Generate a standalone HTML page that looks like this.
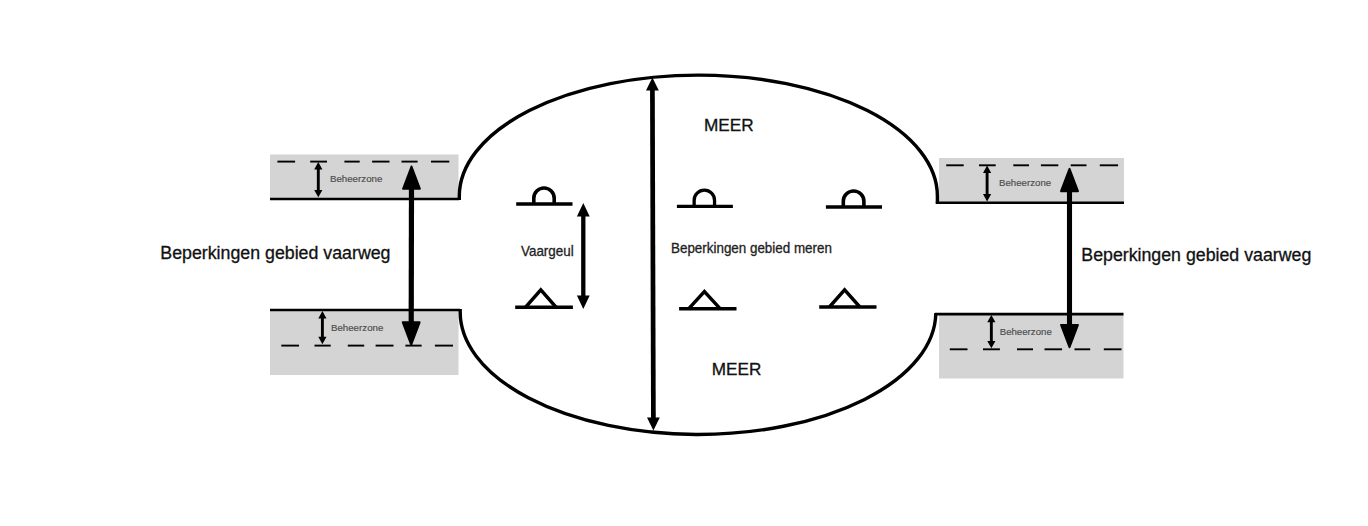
<!DOCTYPE html>
<html><head><meta charset="utf-8"><style>
html,body{margin:0;padding:0;background:#fff;width:1368px;height:526px;overflow:hidden}
svg{display:block}
text{font-family:"Liberation Sans",sans-serif}
</style></head><body>
<svg width="1368" height="526" viewBox="0 0 1368 526">
<g fill="#d4d4d4" stroke="none">
<rect x="270" y="154.5" width="188.5" height="44"/>
<rect x="270" y="310" width="188.5" height="65"/>
<rect x="939" y="158" width="185" height="44"/>
<rect x="939" y="314" width="184.5" height="64.5"/>
</g>
<g stroke="#000" fill="none" stroke-width="3.4">
<path d="M459.3,200 V196.2 A239.05,121.1 0 0 1 937.4,196.2 V203.5"/>
<path d="M460.2,309 V310.85 A237.7,122.35 0 0 0 935.83,313.2 L935.7,315"/>
</g>
<g stroke="#000" stroke-width="2.6">
<line x1="270" y1="199" x2="459" y2="199" stroke-width="2.3"/>
<line x1="270" y1="310" x2="460" y2="310"/>
<line x1="935.8" y1="202.7" x2="1124" y2="202.7"/>
<line x1="935" y1="314.1" x2="1123.5" y2="314.1"/>
</g>
<g stroke="#000" stroke-width="1.9">
<line x1="277.4" y1="161.60" x2="295.1" y2="161.60"/><line x1="310.2" y1="161.60" x2="327.0" y2="161.60"/><line x1="344.4" y1="161.60" x2="359.7" y2="161.60"/><line x1="372.1" y1="161.60" x2="389.5" y2="161.60"/><line x1="401.5" y1="161.60" x2="417.6" y2="161.60"/><line x1="431.0" y1="161.60" x2="449.3" y2="161.60"/>
<line x1="281.3" y1="345.60" x2="299.0" y2="345.60"/><line x1="314.5" y1="345.60" x2="330.7" y2="345.60"/><line x1="347.8" y1="345.60" x2="364.2" y2="345.60"/><line x1="375.6" y1="345.60" x2="393.5" y2="345.60"/><line x1="405.4" y1="345.60" x2="421.6" y2="345.60"/><line x1="434.9" y1="345.60" x2="453.0" y2="345.60"/>
<line x1="946.2" y1="165.30" x2="963.7" y2="165.30"/><line x1="979.0" y1="165.30" x2="995.7" y2="165.30"/><line x1="1013.3" y1="165.30" x2="1029.0" y2="165.30"/><line x1="1040.9" y1="165.30" x2="1058.3" y2="165.30"/><line x1="1070.7" y1="165.30" x2="1086.5" y2="165.30"/><line x1="1099.8" y1="165.30" x2="1118.1" y2="165.30"/>
<line x1="949.8" y1="349.30" x2="967.5" y2="349.30"/><line x1="983.0" y1="349.30" x2="999.9" y2="349.30"/><line x1="1017.0" y1="349.30" x2="1033.0" y2="349.30"/><line x1="1044.5" y1="349.30" x2="1062.1" y2="349.30"/><line x1="1074.5" y1="349.30" x2="1090.2" y2="349.30"/><line x1="1103.8" y1="349.30" x2="1121.5" y2="349.30"/>
</g>
<g stroke="#000" fill="#000">
<line x1="318.30" y1="167.21" x2="318.30" y2="192.19" stroke-width="2.90" stroke-linecap="butt"/><polygon points="318.30,162.10 314.20,169.40 322.40,169.40" stroke="none"/><polygon points="318.30,197.30 314.20,190.00 322.40,190.00" stroke="none"/>
<line x1="322.40" y1="316.15" x2="322.40" y2="338.95" stroke-width="2.90" stroke-linecap="butt"/><polygon points="322.40,310.90 318.30,318.40 326.50,318.40" stroke="none"/><polygon points="322.40,344.20 318.30,336.70 326.50,336.70" stroke="none"/>
<line x1="987.10" y1="170.78" x2="987.10" y2="196.22" stroke-width="2.90" stroke-linecap="butt"/><polygon points="987.10,165.60 983.00,173.00 991.20,173.00" stroke="none"/><polygon points="987.10,201.40 983.00,194.00 991.20,194.00" stroke="none"/>
<line x1="991.35" y1="320.11" x2="991.35" y2="343.14" stroke-width="2.90" stroke-linecap="butt"/><polygon points="991.35,315.00 987.25,322.30 995.45,322.30" stroke="none"/><polygon points="991.35,348.25 987.25,340.95 995.45,340.95" stroke="none"/>
<line x1="411.50" y1="182.21" x2="411.20" y2="328.89" stroke-width="5.20" stroke-linecap="butt"/><polygon points="411.50,166.50 403.10,188.80 419.90,188.80" stroke-width="2.00" stroke-linejoin="round"/><polygon points="411.20,344.60 402.80,322.30 419.60,322.30" stroke-width="2.00" stroke-linejoin="round"/>
<line x1="1069.50" y1="184.61" x2="1069.50" y2="331.49" stroke-width="5.10" stroke-linecap="butt"/><polygon points="1069.50,168.90 1061.05,191.20 1077.95,191.20" stroke-width="2.00" stroke-linejoin="round"/><polygon points="1069.50,347.20 1061.05,324.90 1077.95,324.90" stroke-width="2.00" stroke-linejoin="round"/>
<line x1="652.40" y1="86.63" x2="653.40" y2="421.37" stroke-width="4.70" stroke-linecap="butt"/><polygon points="652.40,77.60 646.00,90.50 658.80,90.50" stroke="none"/><polygon points="653.40,430.40 647.00,417.50 659.80,417.50" stroke="none"/>
<line x1="583.30" y1="212.55" x2="583.30" y2="299.45" stroke-width="4.30" stroke-linecap="butt"/><polygon points="583.30,203.10 576.90,216.60 589.70,216.60" stroke="none"/><polygon points="583.30,308.90 576.90,295.40 589.70,295.40" stroke="none"/>
</g>
<g stroke="#000" fill="none">
<line x1="516.2" y1="204.00" x2="572.5" y2="204.00" stroke-width="3.60"/><path d="M533.80,204.00 V198.20 A10.20,10.20 0 0 1 554.20,198.20 V204.00" stroke-width="3.60" fill="none"/>
<line x1="676.9" y1="206.35" x2="732.9" y2="206.35" stroke-width="3.30"/><path d="M694.15,206.35 V200.40 A10.20,10.20 0 0 1 714.55,200.40 V206.35" stroke-width="3.30" fill="none"/>
<line x1="825.9" y1="207.00" x2="882.0" y2="207.00" stroke-width="3.60"/><path d="M843.30,207.00 V201.30 A10.30,10.30 0 0 1 863.90,201.30 V207.00" stroke-width="3.60" fill="none"/>
<line x1="515.2" y1="307.20" x2="572.9" y2="307.20" stroke-width="3.50"/><polyline points="525.60,307.20 540.80,289.90 556.00,307.20" stroke-width="3.50" fill="none" stroke-linejoin="miter"/>
<line x1="679.1" y1="308.70" x2="736.5" y2="308.70" stroke-width="3.40"/><polyline points="688.80,308.70 704.40,291.50 720.10,308.70" stroke-width="3.40" fill="none" stroke-linejoin="miter"/>
<line x1="819.2" y1="307.00" x2="876.5" y2="307.00" stroke-width="3.40"/><polyline points="829.40,307.00 844.60,289.90 859.90,307.00" stroke-width="3.40" fill="none" stroke-linejoin="miter"/>
</g>
<g><text x="160.3" y="259.4" font-size="17.5" fill="#111" stroke="#111" stroke-width="0.30" textLength="230.2" lengthAdjust="spacingAndGlyphs">Beperkingen gebied vaarweg</text>
<text x="1081.3" y="261.2" font-size="17.5" fill="#111" stroke="#111" stroke-width="0.30" textLength="230.0" lengthAdjust="spacingAndGlyphs">Beperkingen gebied vaarweg</text>
<text x="704.0" y="131.3" font-size="16.2" fill="#111" stroke="#111" stroke-width="0.30" textLength="49.7" lengthAdjust="spacingAndGlyphs">MEER</text>
<text x="711.8" y="375.2" font-size="16.2" fill="#111" stroke="#111" stroke-width="0.30" textLength="49.5" lengthAdjust="spacingAndGlyphs">MEER</text>
<text x="521.0" y="256.1" font-size="13.9" fill="#222" stroke="#222" stroke-width="0.30" textLength="52.7" lengthAdjust="spacingAndGlyphs">Vaargeul</text>
<text x="671.0" y="253.3" font-size="13.9" fill="#222" stroke="#222" stroke-width="0.30" textLength="160.9" lengthAdjust="spacingAndGlyphs">Beperkingen gebied meren</text>
<text x="329.9" y="181.7" font-size="8.7" fill="#4d4d4d" stroke="#4d4d4d" stroke-width="0.15" textLength="52.5" lengthAdjust="spacingAndGlyphs">Beheerzone</text>
<text x="330.9" y="331.3" font-size="8.7" fill="#4d4d4d" stroke="#4d4d4d" stroke-width="0.15" textLength="52.5" lengthAdjust="spacingAndGlyphs">Beheerzone</text>
<text x="999.0" y="185.9" font-size="8.7" fill="#4d4d4d" stroke="#4d4d4d" stroke-width="0.15" textLength="52.2" lengthAdjust="spacingAndGlyphs">Beheerzone</text>
<text x="999.7" y="335.0" font-size="8.7" fill="#4d4d4d" stroke="#4d4d4d" stroke-width="0.15" textLength="52.1" lengthAdjust="spacingAndGlyphs">Beheerzone</text></g>
</svg>
</body></html>
